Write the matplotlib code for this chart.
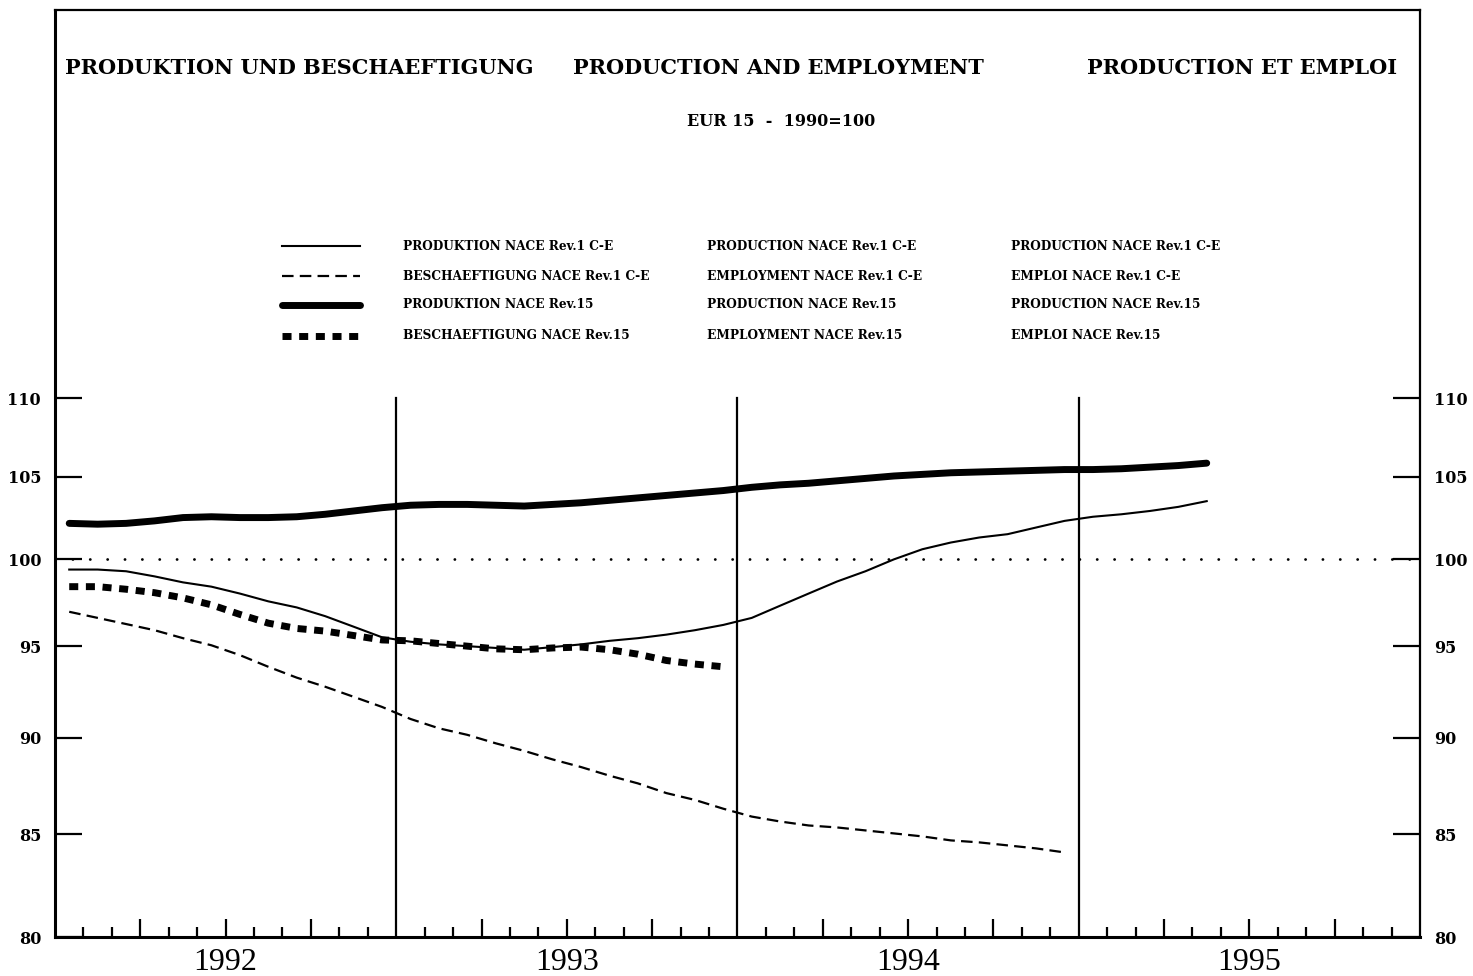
#!/usr/bin/env python3
"""Production and employment indices, EUR 15, 1990=100 (monthly, log scale)."""

import matplotlib

matplotlib.use("Agg")
import matplotlib.pyplot as plt
from matplotlib.lines import Line2D
from matplotlib.ticker import NullLocator

# ---- data (monthly values, index 1990=100) ----
years = ["1992", "1993", "1994", "1995"]

prod_rev15 = [102.15, 102.1, 102.15, 102.3, 102.5, 102.55, 102.5, 102.5, 102.55, 102.7,
              102.9, 103.1, 103.25, 103.3, 103.3, 103.25, 103.2, 103.3, 103.4, 103.55,
              103.7, 103.85, 104.0, 104.15, 104.35, 104.5, 104.6, 104.75, 104.9, 105.05,
              105.15, 105.25, 105.3, 105.35, 105.4, 105.45, 105.45, 105.5, 105.6, 105.7,
              105.85]

prod_rev1 = [99.4, 99.4, 99.3, 99.0, 98.65, 98.4, 98.0, 97.55, 97.2, 96.7,
             96.1, 95.5, 95.25, 95.1, 95.0, 94.9, 94.8, 94.95, 95.1, 95.3,
             95.45, 95.65, 95.9, 96.2, 96.6, 97.3, 98.0, 98.7, 99.3, 100.0,
             100.6, 101.0, 101.3, 101.5, 101.9, 102.3, 102.55, 102.7, 102.9, 103.15,
             103.5]

empl_rev15 = [98.4, 98.4, 98.25, 98.05, 97.75, 97.35, 96.8, 96.3, 96.0, 95.85,
              95.6, 95.35, 95.3, 95.15, 95.0, 94.85, 94.8, 94.9, 94.95, 94.8,
              94.55, 94.2, 94.0, 93.85]

empl_rev1 = [96.95, 96.6, 96.25, 95.9, 95.45, 95.05, 94.5, 93.85, 93.25, 92.75,
             92.2, 91.65, 91.0, 90.5, 90.15, 89.7, 89.3, 88.85, 88.45, 88.0,
             87.6, 87.1, 86.75, 86.3, 85.9, 85.65, 85.45, 85.35, 85.2, 85.05,
             84.9, 84.7, 84.6, 84.45, 84.3, 84.1]

y_ticks = [80, 85, 90, 95, 100, 105, 110]

labels_de = ["PRODUKTION NACE Rev.1 C-E", "BESCHAEFTIGUNG NACE Rev.1 C-E",
             "PRODUKTION NACE Rev.15", "BESCHAEFTIGUNG NACE Rev.15"]
labels_en = ["PRODUCTION NACE Rev.1 C-E", "EMPLOYMENT NACE Rev.1 C-E",
             "PRODUCTION NACE Rev.15", "EMPLOYMENT NACE Rev.15"]
labels_fr = ["PRODUCTION NACE Rev.1 C-E", "EMPLOI NACE Rev.1 C-E",
             "PRODUCTION NACE Rev.15", "EMPLOI NACE Rev.15"]

# line styles in the same order as the labels
styles = [
    dict(lw=1.5, ls="-"),
    dict(lw=1.6, ls=(0, (5.2, 2.8))),
    dict(lw=5.0, ls="-", solid_capstyle="round"),
    dict(lw=5.0, ls=(0, (1.3, 1.1))),
]
series = [prod_rev1, empl_rev1, prod_rev15, empl_rev15]

BOLD = dict(family="DejaVu Serif", fontweight="bold", color="black")

fig = plt.figure(figsize=(14.73, 9.76), dpi=100)
ax = fig.add_axes([55 / 1473, 39 / 976, 1365 / 1473, 927 / 976])

for vals, st in zip(series, styles):
    xs = [m + 0.5 for m in range(len(vals))]
    ax.plot(xs, vals, color="black", **st)

# reference line at 100
ax.axhline(100, color="black", lw=2.0, ls=(0, (0.05, 6.2)), dash_capstyle="round")

# year boundaries
for k in range(1, len(years)):
    ax.plot([12 * k, 12 * k], [80, 110], color="black", lw=1.6)

ax.set_yscale("log")
ax.set_ylim(80, 138.35)
ax.set_xlim(0, 12 * len(years))
ax.set_yticks(y_ticks)
ax.set_yticklabels([str(v) for v in y_ticks], **BOLD, fontsize=11.5)
ax.yaxis.set_minor_locator(NullLocator())
ax.tick_params(axis="y", which="major", direction="in", length=19.5, width=1.6,
               left=True, right=True, labelleft=True, labelright=True, pad=10)

quarters = [m for m in range(1, 48) if m % 3 == 0 and m % 12 != 0]
months = [m for m in range(1, 48) if m % 3 != 0]
ax.set_xticks(quarters)
ax.set_xticks(months, minor=True)
ax.set_xticklabels([])
ax.tick_params(axis="x", which="major", direction="in", length=13, width=1.6)
ax.tick_params(axis="x", which="minor", direction="in", length=7.5, width=1.6)

for i, yr in enumerate(years):
    ax.text(12 * i + 6, -0.012, yr, transform=ax.get_xaxis_transform(),
            ha="center", va="top", family="Liberation Serif", fontsize=23)

for side in ["left", "bottom"]:
    ax.spines[side].set_linewidth(2.2)
for side in ["top", "right"]:
    ax.spines[side].set_linewidth(1.6)

# titles
fig.text(65 / 1473, 1 - 68 / 976, "PRODUKTION UND BESCHAEFTIGUNG", ha="left", va="center",
         fontsize=15, **BOLD)
fig.text(778 / 1473, 1 - 68 / 976, "PRODUCTION AND EMPLOYMENT", ha="center", va="center",
         fontsize=15, **BOLD)
fig.text(1242 / 1473, 1 - 68 / 976, "PRODUCTION ET EMPLOI", ha="center", va="center",
         fontsize=15, **BOLD)
fig.text(781 / 1473, 1 - 121 / 976, "EUR 15  -  1990=100", ha="center", va="center",
         fontsize=11.5, **BOLD)

# legend, three languages
row_y = [246, 276, 305, 336]
for i in range(len(labels_de)):
    fy = 1 - row_y[i] / 976
    fig.add_artist(Line2D([282 / 1473, 360 / 1473], [fy, fy], color="black",
                          transform=fig.transFigure, **styles[i]))
    fig.text(403 / 1473, fy, labels_de[i], ha="left", va="center", fontsize=8.7, **BOLD)
    fig.text(707 / 1473, fy, labels_en[i], ha="left", va="center", fontsize=8.7, **BOLD)
    fig.text(1011 / 1473, fy, labels_fr[i], ha="left", va="center", fontsize=8.7, **BOLD)

fig.savefig("out.png", dpi=100)
